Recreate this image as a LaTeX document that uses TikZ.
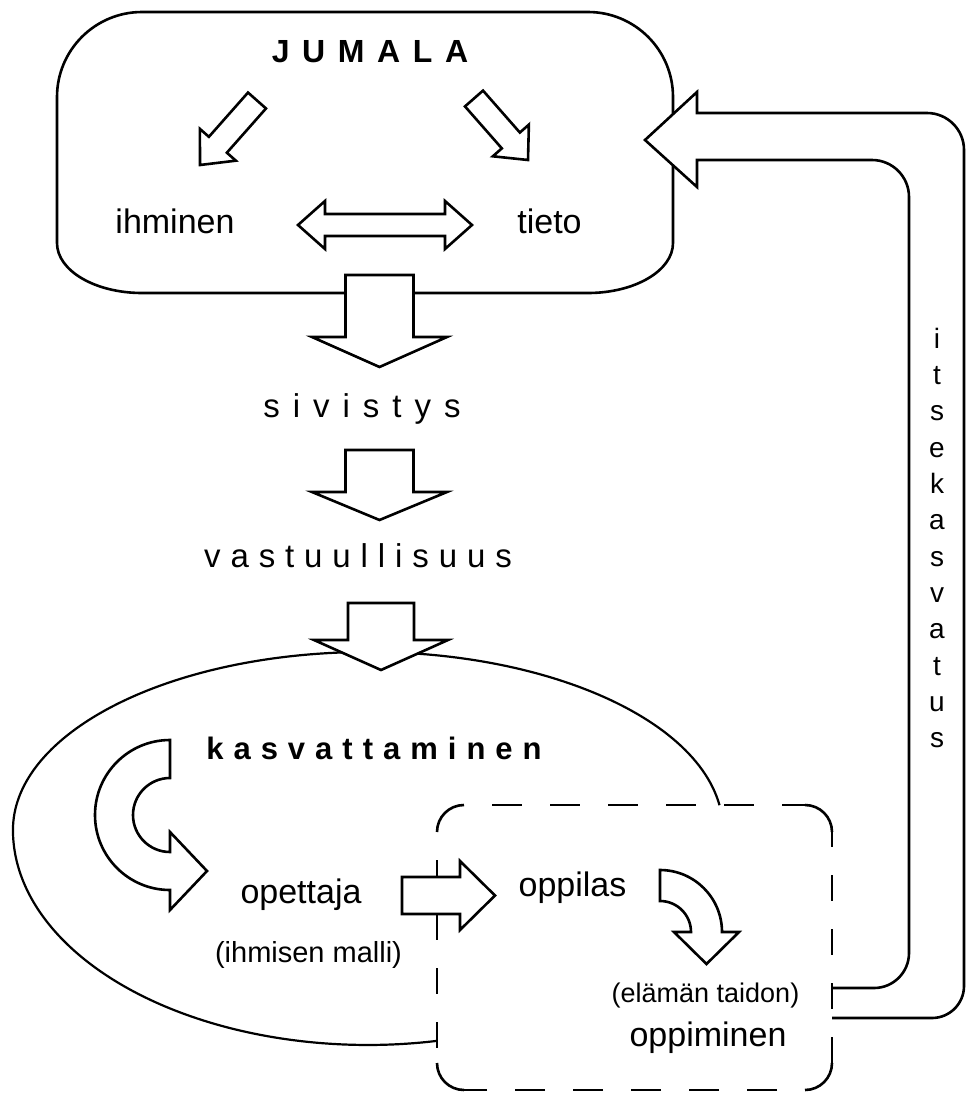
\documentclass[tikz,border=0pt]{standalone}
\usepackage{fontspec}
\setmainfont{Liberation Sans}
\usetikzlibrary{calc}
\makeatletter
\def\lsp#1#2{{\def\lsp@k{#1}\lsp@aux#2\relax}}
\def\lsp@aux#1{\ifx\relax#1\unkern\else#1\kern\lsp@k\relax\expandafter\lsp@aux\fi}
\makeatother
\tikzset{
  line/.style={draw=black, line width=2.6pt, line join=miter},
  thinline/.style={draw=black, line width=2.2pt},
  barrow/.style={draw=black, fill=white, line width=2.6pt, line join=miter, miter limit=10},
  dline/.style={draw=black, line width=2.8pt},
  txt/.style={inner sep=0pt, anchor=base, font=\fontsize{34}{40}\selectfont},
}
\newcommand\blockarr[5]{%
  \coordinate (ba-h) at ($(#2)!#5!(#1)$);
  \draw[barrow] ($(#1)!#3!90:(#2)$) -- ($(ba-h)!#3!90:(#2)$) -- ($(ba-h)!#4!90:(#2)$) -- (#2)
    -- ($(ba-h)!#4!-90:(#2)$) -- ($(ba-h)!#3!-90:(#2)$) -- ($(#1)!#3!-90:(#2)$) -- cycle;}
\begin{document}
\begin{tikzpicture}[x=1pt,y=-1pt]
\useasboundingbox (0,0) rectangle (967,1095);
\fill[white] (0,0) rectangle (967,1095);

% top box
\draw[line] (142,12) -- (588,12) arc[start angle=-90, end angle=0, radius=85]
  -- (673,243) arc[start angle=0, end angle=90, x radius=85, y radius=50]
  -- (142,293) arc[start angle=90, end angle=180, x radius=85, y radius=50]
  -- (57,97) arc[start angle=180, end angle=270, radius=85] -- cycle;

% feedback arrow (itsekasvatus)
\draw[barrow] (832,988) -- (874,988) arc[start angle=90, end angle=0, radius=35]
  -- (909,197) arc[start angle=0, end angle=-90, radius=37]
  -- (697,160) -- (697,187) -- (645,140) -- (697,92) -- (697,113)
  -- (927,113) arc[start angle=-90, end angle=0, radius=37]
  -- (964,986) arc[start angle=0, end angle=90, radius=32] -- (832,1018);

% arrows inside top box
\blockarr{257,100.5}{200,165}{12pt}{24pt}{27pt}
\blockarr{474,98.5}{528,160}{12pt}{24pt}{26pt}
\draw[barrow] (298,225) -- (325,201) -- (325,214) -- (445,214) -- (445,201) -- (472,225)
  -- (445,249) -- (445,236) -- (325,236) -- (325,249) -- cycle;

% down arrows
\blockarr{379.5,275}{379.5,367}{34pt}{67.5pt}{30pt}
\blockarr{379.5,450}{379.5,520}{34pt}{67.5pt}{28pt}

% big ellipse-like curve
\draw[thinline] (719.5,805.2) arc[start angle=-8, end angle=-180, x radius=355, y radius=178]
  arc[start angle=180, end angle=78.8, x radius=355, y radius=215];

\blockarr{381,603}{381,670}{33pt}{67pt}{30pt}

% dashed box
\draw[line] (437,832) arc[start angle=180, end angle=270, radius=27];
\draw[line] (805,805) arc[start angle=-90, end angle=0, radius=27];
\draw[line] (832,1063) arc[start angle=0, end angle=90, radius=27];
\draw[line] (464,1090) arc[start angle=90, end angle=180, radius=27];
\draw[dline, dash pattern=on 30pt off 28pt, dash phase=30pt] (464,805) -- (805,805);
\draw[dline, dash pattern=on 26pt off 28pt, dash phase=11pt] (832,832) -- (832,1063);
\draw[dline, dash pattern=on 30pt off 28pt, dash phase=30pt] (805,1090) -- (464,1090);
\draw[dline, dash pattern=on 26pt off 28pt, dash phase=26pt] (437,832) -- (437,1063);

% right arrow opettaja -> oppilas
\blockarr{402,895.5}{495,895.5}{18.5pt}{34.5pt}{35pt}

% C-shaped arrow
\draw[barrow] (170,740) arc[start angle=270, end angle=90, radius=75] -- (170,910) -- (207,871)
  -- (170,832) -- (170,852) arc[start angle=90, end angle=270, radius=37] -- cycle;

% curved arrow oppilas -> oppiminen
\draw[barrow] (660,870) arc[start angle=-90, end angle=0, radius=62] -- (739,932) -- (706.5,964)
  -- (674,932) -- (691,932) arc[start angle=0, end angle=-90, radius=31] -- cycle;

% texts
\node[txt, font=\bfseries\fontsize{32}{38}\selectfont] (jumala) at (370,62) {\lsp{12.6pt}{JUMALA}};
\node[txt] (ihminen) at (175,233) {ihminen};
\node[txt] (tieto) at (549.5,233) {tieto};
\node[txt, font=\fontsize{33}{38}\selectfont] (sivistys) at (362,417) {\lsp{13pt}{sivistys}};
\node[txt, font=\fontsize{33}{38}\selectfont] (vastuu) at (358,567) {\lsp{9.9pt}{vastuullisuus}};
\node[txt, font=\bfseries\fontsize{31}{36}\selectfont] (kasv) at (374,759) {\lsp{10pt}{kasvattaminen}};
\node[txt] (opettaja) at (301,903) {opettaja};
\node[txt, font=\fontsize{29}{34}\selectfont] (malli) at (308.5,962) {(ihmisen malli)};
\node[txt] (oppilas) at (572.5,896) {oppilas};
\node[txt, font=\fontsize{27}{34}\selectfont] (taidon) at (705.5,1002) {(elämän taidon)};
\node[txt] (oppiminen) at (708,1046) {oppiminen};
\node[font=\fontsize{28}{36.3}\selectfont, align=center, inner sep=0pt] (itse) at (937,538)
  {i\\t\\s\\e\\k\\a\\s\\v\\a\\t\\u\\s};
\end{tikzpicture}
\end{document}
